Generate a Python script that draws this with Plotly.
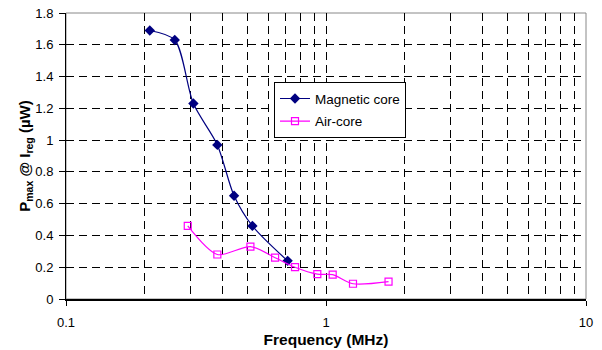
import plotly.graph_objects as go

mag_freq = [0.21, 0.262, 0.309, 0.382, 0.443, 0.521, 0.712]
mag_p = [1.69, 1.63, 1.23, 0.97, 0.65, 0.46, 0.24]

air_freq = [0.294, 0.382, 0.512, 0.637, 0.76, 0.926, 1.061, 1.27, 1.74]
air_p = [0.46, 0.28, 0.33, 0.26, 0.2, 0.157, 0.153, 0.096, 0.109]

x_tickvals = [0.1, 1, 10]
x_ticktext = ["0.1", "1", "10"]

FONT = "Liberation Sans, Arial, sans-serif"

fig = go.Figure()
fig.add_trace(go.Scatter(
    x=mag_freq, y=mag_p, name="Magnetic core", mode="lines+markers",
    legendgroup="a",
    line=dict(color="#000080", width=1.2, shape="spline", smoothing=0.8),
    marker=dict(symbol="diamond", size=8, color="#000080"),
))
fig.add_trace(go.Scatter(
    x=air_freq, y=air_p, name="Air-core", mode="lines+markers",
    legendgroup="b",
    line=dict(color="#FF00FF", width=1.2, shape="spline", smoothing=0.8),
    marker=dict(symbol="square-open", size=7, color="#FF00FF", line=dict(width=1.2)),
))

dash = "8px,5px"

fig.update_layout(
    width=602, height=350,
    margin=dict(l=66, r=16, t=13, b=51),
    paper_bgcolor="white", plot_bgcolor="white",
    font=dict(family=FONT, size=13, color="black"),
    showlegend=True,
    legend=dict(
        x=0.4, y=0.758, xanchor="left", yanchor="top",
        bgcolor="white", bordercolor="black", borderwidth=1,
        font=dict(size=13.5), tracegroupgap=2, itemwidth=30,
    ),
    xaxis=dict(
        type="log", range=[-1, 1], automargin=False,
        tickvals=x_tickvals, ticktext=x_ticktext,
        ticks="outside", ticklen=5, tickcolor="black",
        showline=True, linecolor="black", linewidth=1.5,
        showgrid=True, gridcolor="black", gridwidth=1, griddash=dash,
        minor=dict(dtick="D1", showgrid=True, gridcolor="black", gridwidth=1,
                   griddash=dash, ticks=""),
        ticklabelstandoff=6, ticklabeloverflow="allow",
        title=dict(text="<b>Frequency (MHz)</b>", font=dict(size=15.5), standoff=5),
        zeroline=False,
    ),
    yaxis=dict(
        range=[0, 1.8], dtick=0.2, automargin=False,
        ticks="outside", ticklen=6, tickcolor="black",
        showline=True, linecolor="black", linewidth=1,
        showgrid=True, gridcolor="black", gridwidth=1, griddash=dash,
        ticklabelstandoff=3, ticklabeloverflow="allow",
        title=dict(text="<b>P<sub>max</sub> @ I<sub>reg</sub> (µW)</b>", font=dict(size=15), standoff=1),
        zeroline=False,
    ),
    shapes=[dict(type="rect", xref="paper", yref="paper", x0=0, x1=1, y0=0, y1=1,
                 line=dict(color="#888888", width=1), layer="below")],
)

# remove the default 8px page margin so the figure sits at the window origin
fig.write_html("out.html", config={"displayModeBar": False},
               post_script="document.body.style.margin='0';")
